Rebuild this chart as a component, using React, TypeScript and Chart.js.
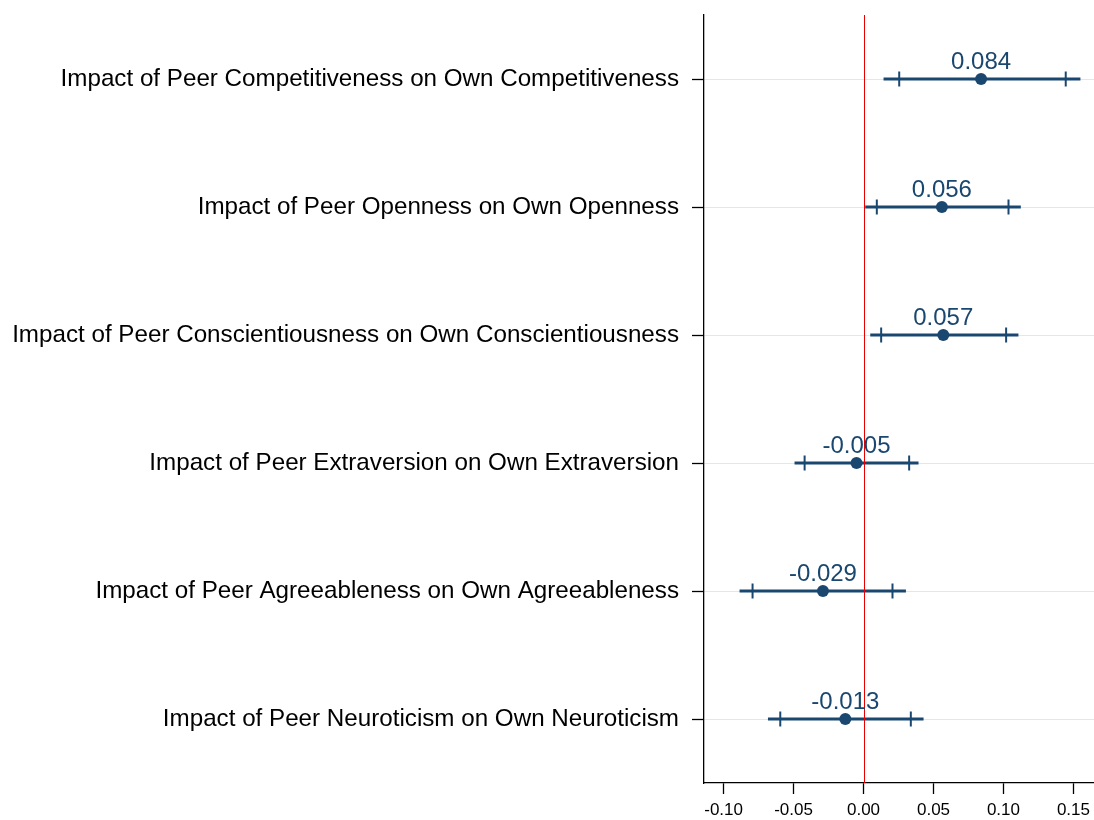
import React, { useEffect, useRef } from "react";
import { Chart, registerables } from "chart.js";

Chart.register(...registerables);

const categories = [
  "Impact of Peer Competitiveness on Own Competitiveness",
  "Impact of Peer Openness on Own Openness",
  "Impact of Peer Conscientiousness on Own Conscientiousness",
  "Impact of Peer Extraversion on Own Extraversion",
  "Impact of Peer Agreeableness on Own Agreeableness",
  "Impact of Peer Neuroticism on Own Neuroticism",
];
const estimates = [0.084, 0.056, 0.057, -0.005, -0.029, -0.013];
const ci95Low = [0.0143, 0.0012, 0.0048, -0.0493, -0.0886, -0.0683];
const ci95High = [0.155, 0.1124, 0.1107, 0.0393, 0.0303, 0.0429];
const ci90Low = [0.0255, 0.0095, 0.0126, -0.0421, -0.0793, -0.0595];
const ci90High = [0.1445, 0.1036, 0.1019, 0.0326, 0.0207, 0.0338];
const xTickValues = [-0.1, -0.05, 0, 0.05, 0.1, 0.15];

const NAVY = "#1a476f";
const FONT = '"Liberation Sans", Arial, Helvetica, sans-serif';

const coefPlugin = {
  id: "coefPlugin",
  beforeDatasetsDraw(chart: any) {
    const { ctx, scales } = chart;
    const x = scales.x;
    const y = scales.y;
    ctx.save();
    ctx.strokeStyle = NAVY;
    categories.forEach((_c, i) => {
      const yy = y.getPixelForValue(i);
      ctx.lineWidth = 3;
      ctx.beginPath();
      ctx.moveTo(x.getPixelForValue(ci95Low[i]), yy);
      ctx.lineTo(x.getPixelForValue(ci95High[i]), yy);
      ctx.stroke();
      ctx.lineWidth = 2;
      [ci90Low[i], ci90High[i]].forEach((v) => {
        const px = x.getPixelForValue(v);
        ctx.beginPath();
        ctx.moveTo(px, yy - 7.5);
        ctx.lineTo(px, yy + 7.5);
        ctx.stroke();
      });
    });
    ctx.restore();
  },
  afterDatasetsDraw(chart: any) {
    const { ctx, scales, chartArea } = chart;
    const x = scales.x;
    const y = scales.y;
    ctx.save();
    const zx = Math.round(x.getPixelForValue(0)) + 0.5;
    ctx.strokeStyle = "rgb(230,0,0)";
    ctx.lineWidth = 1;
    ctx.beginPath();
    ctx.moveTo(zx, chartArea.top);
    ctx.lineTo(zx, chartArea.bottom);
    ctx.stroke();
    ctx.fillStyle = NAVY;
    ctx.font = `24px ${FONT}`;
    ctx.textAlign = "center";
    ctx.textBaseline = "alphabetic";
    estimates.forEach((v, i) => {
      const px = x.getPixelForValue(v);
      const yy = y.getPixelForValue(i);
      ctx.fillText(v.toFixed(3), px, yy - 10);
    });
    ctx.restore();
  },
};

export default function App() {
  const ref = useRef<HTMLCanvasElement>(null);
  useEffect(() => {
    if (!ref.current) return;
    const chart = new Chart(ref.current, {
      type: "scatter",
      data: {
        datasets: [
          {
            data: categories.map((c, i) => ({ x: estimates[i], y: c })) as any,
            pointRadius: 6,
            pointHoverRadius: 6,
            backgroundColor: NAVY,
            borderColor: NAVY,
            borderWidth: 0,
          },
        ],
      },
      options: {
        animation: false,
        responsive: false,
        maintainAspectRatio: false,
        layout: { autoPadding: false, padding: { top: 15, right: 0, bottom: 0, left: 0 } },
        plugins: {
          legend: { display: false },
          tooltip: { enabled: false },
        },
        scales: {
          x: {
            type: "linear",
            min: -0.114,
            max: 0.1647,
            afterBuildTicks: (s: any) => {
              s.ticks = xTickValues.map((v) => ({ value: v }));
            },
            afterFit: (s: any) => {
              s.height = 37;
              s.paddingLeft = 0;
              s.paddingRight = 0;
            },
            ticks: {
              callback: (v: any) => Number(v).toFixed(2),
              font: { size: 17, family: FONT },
              color: "#000",
              padding: 6,
              maxRotation: 0,
            },
            grid: {
              display: true,
              drawOnChartArea: false,
              drawTicks: true,
              tickLength: 11,
              tickColor: "#000",
              tickWidth: 1.3,
            },
            border: { display: true, color: "#000", width: 1.3 },
          },
          y: {
            type: "category",
            labels: categories,
            offset: true,
            afterFit: (s: any) => {
              s.width = 704;
              s.paddingTop = 0;
              s.paddingBottom = 0;
            },
            ticks: {
              font: { size: 24.2, family: FONT },
              color: "#000",
              padding: 13,
              crossAlign: "near",
            },
            grid: {
              display: true,
              drawOnChartArea: true,
              color: "#e6e6e6",
              lineWidth: 1,
              drawTicks: true,
              tickLength: 12,
              tickColor: "#000",
              tickWidth: 1.3,
              offset: false,
            },
            border: { display: true, color: "#000", width: 1.3 },
          },
        },
      },
      plugins: [coefPlugin],
    });
    return () => chart.destroy();
  }, []);
  return (
    <div style={{ position: "fixed", left: 0, top: 0, width: 1094, height: 820, background: "#fff" }}>
      <canvas ref={ref} width={1094} height={820} style={{ width: 1094, height: 820 }} />
    </div>
  );
}
